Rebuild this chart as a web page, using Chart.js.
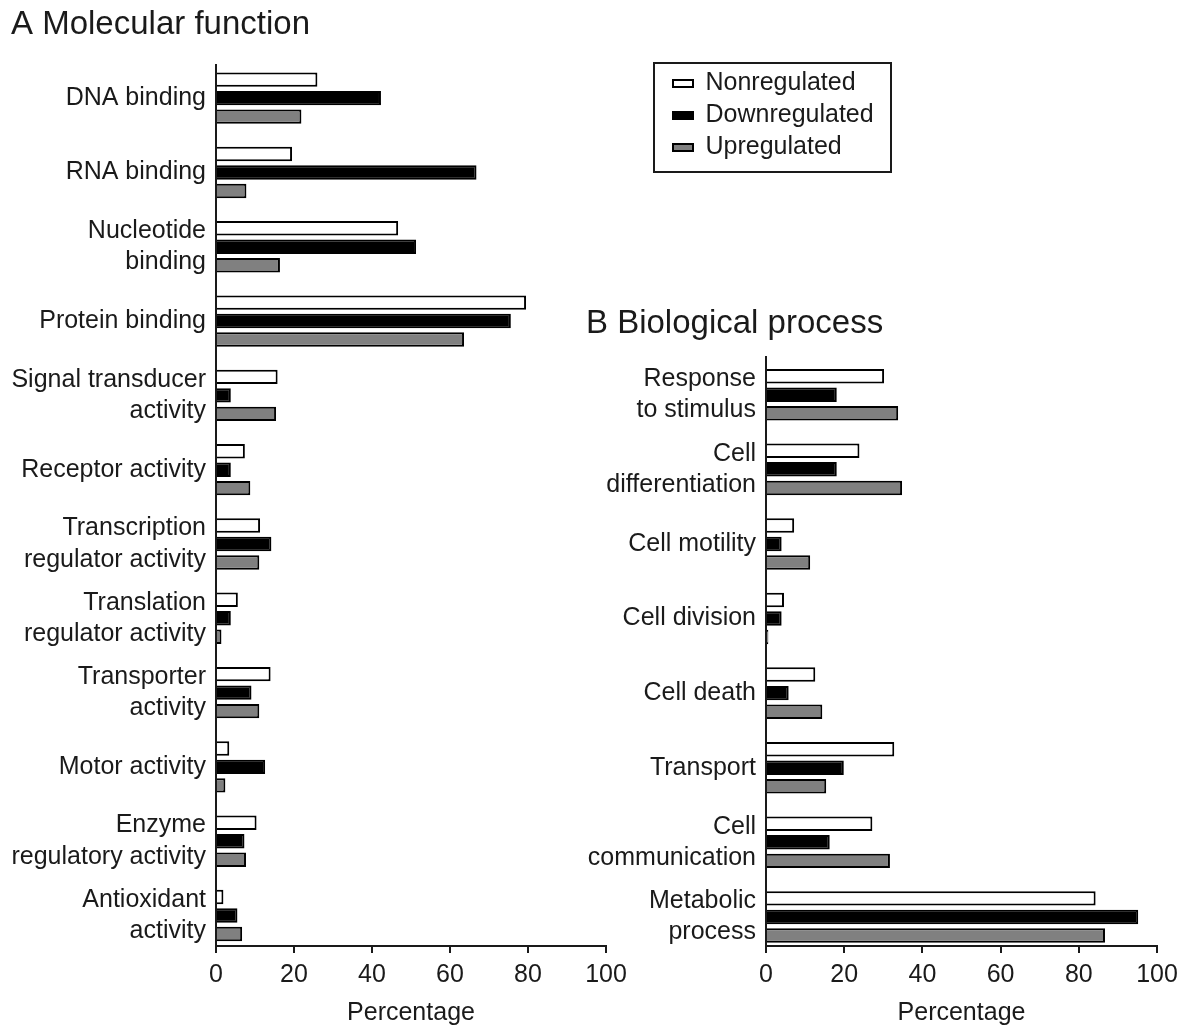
<!DOCTYPE html>
<html>
<head>
<meta charset="utf-8">
<script src="https://cdn.jsdelivr.net/npm/chart.js@4/dist/chart.umd.min.js"></script>
<style>
  html, body { margin: 0; padding: 0; background: #fff; width: 1190px; height: 1030px; overflow: hidden; }
  canvas { position: absolute; }
  #cA { left: 0; top: 0; }
  #cB { left: 560px; top: 0; }
  #legendBox { position: absolute; left: 653px; top: 62px; border: 2px solid #1a1a1a; width: 235px; height: 107px; }
  #legendBox canvas { position: static; display: block; }
</style>
</head>
<body>
<canvas id="cA" width="650" height="1030"></canvas>
<canvas id="cB" width="630" height="1030"></canvas>
<div id="legendBox"><canvas id="cL" width="235" height="107"></canvas></div>
<script>
// ---------- DATA ----------
const seriesNames = ['Nonregulated', 'Downregulated', 'Upregulated'];

const categoriesA = [
  'DNA binding', 'RNA binding', ['Nucleotide', 'binding'], 'Protein binding',
  ['Signal transducer', 'activity'], 'Receptor activity',
  ['Transcription', 'regulator activity'], ['Translation', 'regulator activity'],
  ['Transporter', 'activity'], 'Motor activity',
  ['Enzyme', 'regulatory activity'], ['Antioxidant', 'activity']
];
const nonregulatedA  = [26.0, 19.5, 46.7, 79.5, 15.8, 7.4, 11.3, 5.6, 14.0, 3.4, 10.4, 1.9];
const downregulatedA = [42.3, 66.8, 51.3, 75.6, 3.8, 3.8, 14.2, 3.8, 9.1, 12.6, 7.3, 5.5];
const upregulatedA   = [21.9, 7.8, 16.4, 63.6, 15.4, 8.8, 11.1, 1.4, 11.1, 2.4, 7.7, 6.7];

const categoriesB = [
  ['Response', 'to stimulus'], ['Cell', 'differentiation'], 'Cell motility',
  'Cell division', 'Cell death', 'Transport', ['Cell', 'communication'],
  ['Metabolic', 'process']
];
const nonregulatedB  = [30.2, 23.9, 7.2, 4.6, 12.6, 32.8, 27.2, 84.3];
const downregulatedB = [18.1, 18.1, 4.0, 4.0, 5.8, 19.9, 16.3, 95.2];
const upregulatedB   = [33.8, 34.8, 11.3, 0.6, 14.4, 15.4, 31.7, 86.7];

const xTicks = [0, 20, 40, 60, 80, 100];

// ---------- STYLE ----------
const INK = '#1a1a1a';
const FILLS = ['#ffffff', '#000000', '#808080'];
Chart.defaults.font.family = '"Liberation Sans", Arial, Helvetica, sans-serif';
Chart.defaults.color = INK;

function toPoints(vals) { return vals.map((v, i) => ({ x: v, y: i })); }

function makeDatasets(seriesList) {
  return seriesList.map((vals, k) => ({
    label: seriesNames[k],
    data: vals ? toPoints(vals) : [],
    backgroundColor: FILLS[k],
    borderColor: '#000',
    borderWidth: 2,
    categoryPercentage: 0.746,
    barPercentage: 0.78
  }));
}

function panelOptions(cfg) {
  return {
    indexAxis: 'y',
    responsive: false,
    animation: false,
    layout: { padding: cfg.padding },
    plugins: {
      legend: { display: false },
      tooltip: { enabled: false },
      title: {
        display: true,
        text: cfg.title,
        align: 'start',
        color: INK,
        font: { size: 33, weight: 'normal', lineHeight: 1.2 },
        padding: cfg.titlePadding
      }
    },
    scales: {
      x: {
        type: 'linear',
        min: xTicks[0],
        max: xTicks[xTicks.length - 1],
        afterBuildTicks: (s) => { s.ticks = xTicks.map(v => ({ value: v })); },
        ticks: { padding: 10, font: { size: 25, lineHeight: 1 }, color: INK },
        grid: { display: true, drawOnChartArea: false, drawTicks: true, tickLength: 7, lineWidth: 2, color: INK },
        border: { display: true, width: 2, color: INK },
        title: {
          display: true, text: 'Percentage', color: INK,
          font: { size: 25, lineHeight: 1.2 },
          padding: { top: 0, bottom: 2 }
        }
      },
      y: {
        type: 'linear',
        reverse: true,
        offset: false,
        min: cfg.yMin,
        max: cfg.yMax,
        afterBuildTicks: (s) => { s.ticks = cfg.labels.map((_, i) => ({ value: i })); },
        afterFit: (s) => { s.width = cfg.yWidth; },
        ticks: {
          autoSkip: false,
          padding: 10,
          color: INK,
          font: { size: 25, lineHeight: 1.25 },
          callback: (v) => cfg.labels[v]
        },
        grid: { display: false, drawTicks: false, tickLength: 0, offset: false },
        border: { display: true, width: 2, color: INK }
      }
    }
  };
}

new Chart(document.getElementById('cA'), {
  type: 'bar',
  data: { datasets: makeDatasets([nonregulatedA, downregulatedA, upregulatedA]) },
  options: panelOptions({
    title: 'A Molecular function',
    labels: categoriesA,
    padding: { left: 11, right: 44, top: 0, bottom: 0 },
    titlePadding: { top: 5, bottom: 20.4 },
    yMin: -0.446, yMax: 11.41,
    yWidth: 205
  })
});

new Chart(document.getElementById('cB'), {
  type: 'bar',
  data: { datasets: makeDatasets([nonregulatedB, downregulatedB, upregulatedB]) },
  options: panelOptions({
    title: 'B Biological process',
    labels: categoriesB,
    padding: { left: 26, right: 33, top: 0, bottom: 0 },
    titlePadding: { top: 304, bottom: 12.9 },
    yMin: -0.513, yMax: 7.39,
    yWidth: 180
  })
});

// Legend-only chart (framed box at top right)
new Chart(document.getElementById('cL'), {
  type: 'bar',
  data: { labels: [], datasets: makeDatasets([null, null, null]) },
  options: {
    responsive: false,
    animation: false,
    layout: { padding: { left: 11, top: 0, right: 0, bottom: 0 } },
    scales: { x: { display: false }, y: { display: false } },
    plugins: {
      tooltip: { enabled: false },
      legend: {
        display: true,
        position: 'chartArea',
        align: 'start',
        labels: {
          color: INK,
          font: { size: 25 },
          boxWidth: 20,
          boxHeight: 7,
          padding: 7
        }
      }
    }
  }
});
</script>
</body>
</html>
